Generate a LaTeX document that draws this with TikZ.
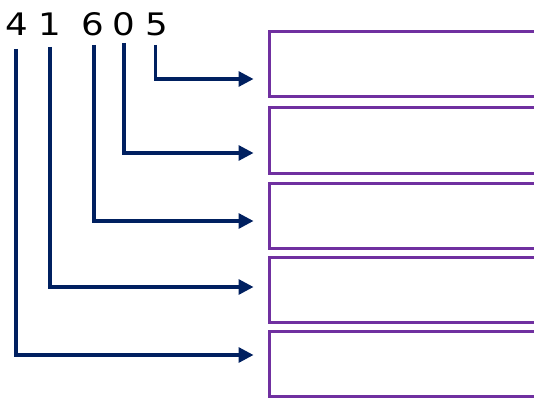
\documentclass[tikz,border=0pt]{standalone}
\usepackage{fontspec}
\setmainfont{DejaVu Sans}
\usetikzlibrary{arrows.meta,calc}
\definecolor{navy}{HTML}{002060}
\definecolor{boxpurple}{HTML}{7030A0}
\newcommand{\wdig}[1]{\scalebox{1.15}[1]{#1}}
\tikzset{
  digit/.style={font=\fontsize{31}{32}\selectfont, inner sep=0pt, anchor=base, text=black},
  slot/.style={draw=boxpurple, line width=3pt, rectangle, minimum width=320pt, minimum height=65pt, anchor=north west, outer sep=0pt},
  conn/.style={draw=navy, line width=3.2pt, -{Triangle[length=15pt,width=15pt]}},
}
\begin{document}
\begin{tikzpicture}[x=1pt,y=-1pt]
\useasboundingbox (0,0) rectangle (534,398);
\clip (0,0) rectangle (534,398);
\fill[white] (0,0) rectangle (534,398);
% digits
\node[digit] (d4) at (16.5,36) {\wdig{4}};
\node[digit] (d1) at (49.5,36) {\wdig{1}};
\node[digit] (d6) at (93,36) {\wdig{6}};
\node[digit] (d0) at (124,36) {\wdig{0}};
\node[digit] (d5) at (157,36) {\wdig{5}};
% boxes
\node[slot] (b1) at (269.5,32) {};
\node[slot] (b2) at (269.5,108) {};
\node[slot] (b3) at (269.5,183) {};
\node[slot] (b4) at (269.5,257) {};
\node[slot] (b5) at (269.5,331) {};
% connectors
\draw[conn] ($(d5.base)+(-1.5,9)$) |- ($(b1.west)+(-16,14.5)$);
\draw[conn] ($(d0.base)+(0,7)$) |- ($(b2.west)+(-16,12.5)$);
\draw[conn] ($(d6.base)+(1,9)$) |- ($(b3.west)+(-16,5.5)$);
\draw[conn] ($(d1.base)+(0.5,11)$) |- ($(b4.west)+(-16,-2.5)$);
\draw[conn] ($(d4.base)+(-0.5,13)$) |- ($(b5.west)+(-16,-8.5)$);
\end{tikzpicture}
\end{document}
